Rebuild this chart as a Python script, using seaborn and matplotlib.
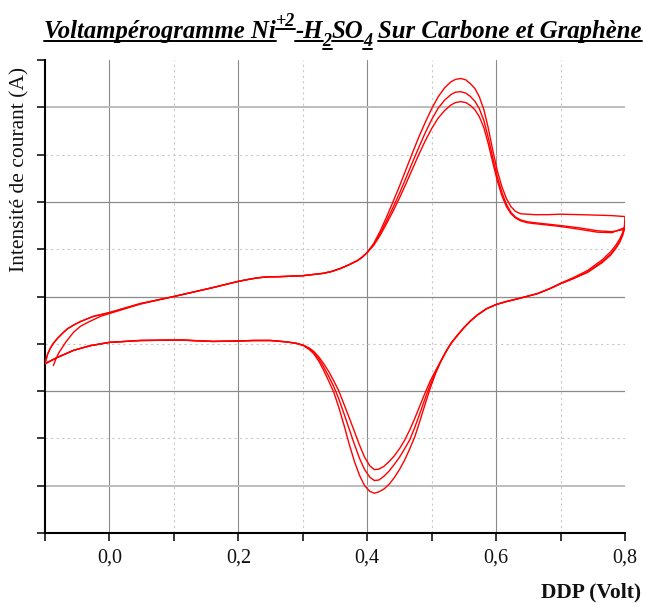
import matplotlib
matplotlib.use("Agg")
import matplotlib.pyplot as plt
from matplotlib.lines import Line2D
import pandas as pd
import seaborn as sns

# ---------------------------------------------------------------------------
# Cyclic voltammogram, three successive scans (potential in V, current in a.u.)
# ---------------------------------------------------------------------------
cycle_names = ["Cycle 1", "Cycle 2", "Cycle 3"]

# beginning of the anodic scans (cycle 1 starts a little after -0.1 V)
v_fwd_start_1 = [-0.087, -0.083, -0.079, -0.068, -0.056, -0.045, -0.034, -0.014]
i_fwd_start_1 = [-1.46, -1.32, -1.20, -0.97, -0.76, -0.63, -0.55, -0.42]
v_fwd_start_23 = [-0.100, -0.096, -0.092, -0.087, -0.081, -0.073, -0.065, -0.055,
                  -0.045, -0.025]
i_fwd_start_23 = [-1.42, -1.22, -1.10, -0.99, -0.89, -0.78, -0.68, -0.60,
                  -0.53, -0.42]

# rest of the anodic scans
v_fwd = [0.000, 0.048, 0.100, 0.161, 0.200, 0.215, 0.230, 0.245, 0.265, 0.300,
         0.332, 0.345, 0.358, 0.370, 0.385, 0.392,
         0.400, 0.410, 0.420, 0.430, 0.440, 0.450, 0.460, 0.470, 0.480, 0.490,
         0.500, 0.510, 0.520, 0.530, 0.537, 0.545, 0.553, 0.560, 0.567, 0.574,
         0.581, 0.588, 0.595, 0.602, 0.609, 0.616, 0.623, 0.630, 0.638, 0.648,
         0.660, 0.680, 0.700, 0.730, 0.757, 0.780, 0.800]
i_fwd_1 = [-0.36, -0.16, 0.00, 0.19, 0.32, 0.36, 0.395, 0.415, 0.42, 0.44,
           0.49, 0.53, 0.59, 0.66, 0.76, 0.83,
           0.93, 1.12, 1.38, 1.68, 2.00, 2.33, 2.68, 3.03, 3.37, 3.68,
           3.97, 4.22, 4.41, 4.54, 4.59, 4.61, 4.58, 4.50, 4.40, 4.22,
           3.95, 3.55, 3.08, 2.65, 2.32, 2.07, 1.90, 1.80, 1.75, 1.74,
           1.73, 1.73, 1.74, 1.73, 1.72, 1.71, 1.69]
i_fwd_2 = [-0.34, -0.15, 0.00, 0.19, 0.32, 0.36, 0.395, 0.415, 0.42, 0.44,
           0.49, 0.53, 0.59, 0.66, 0.76, 0.83,
           0.93, 1.10, 1.33, 1.60, 1.88, 2.18, 2.50, 2.83, 3.15, 3.46,
           3.74, 3.98, 4.15, 4.27, 4.32, 4.33, 4.30, 4.23, 4.13, 3.97,
           3.72, 3.35, 2.92, 2.52, 2.20, 1.95, 1.78, 1.68, 1.62, 1.58,
           1.56, 1.53, 1.50, 1.45, 1.39, 1.37, 1.42]
i_fwd_3 = [-0.34, -0.15, 0.00, 0.19, 0.32, 0.36, 0.395, 0.415, 0.42, 0.44,
           0.49, 0.53, 0.59, 0.66, 0.76, 0.83,
           0.93, 1.08, 1.29, 1.54, 1.80, 2.08, 2.38, 2.69, 3.00, 3.29,
           3.55, 3.77, 3.93, 4.05, 4.10, 4.12, 4.10, 4.04, 3.95, 3.80,
           3.57, 3.22, 2.82, 2.44, 2.13, 1.90, 1.75, 1.66, 1.60, 1.56,
           1.54, 1.51, 1.48, 1.42, 1.36, 1.35, 1.46]

# cathodic (reverse) scans
v_rev = [0.799, 0.796, 0.792, 0.786, 0.778, 0.765, 0.742, 0.720, 0.700, 0.684,
         0.664, 0.650, 0.633, 0.615, 0.600, 0.585, 0.571, 0.560, 0.550, 0.540,
         0.530, 0.522, 0.514, 0.506, 0.498, 0.490, 0.482, 0.474, 0.466, 0.458,
         0.450, 0.442, 0.434, 0.426, 0.418, 0.411, 0.404, 0.396, 0.388, 0.380,
         0.372, 0.364, 0.356, 0.348, 0.340, 0.332, 0.325, 0.317, 0.310, 0.301,
         0.290, 0.275, 0.250, 0.225, 0.200, 0.161, 0.110, 0.048, 0.000, -0.030,
         -0.056, -0.081, -0.100]
i_rev_1 = [1.47, 1.34, 1.22, 1.09, 0.95, 0.78, 0.55, 0.40, 0.28, 0.17,
           0.06, 0.01, -0.05, -0.11, -0.17, -0.26, -0.39, -0.52, -0.66, -0.82,
           -0.99, -1.17, -1.38, -1.63, -1.93, -2.27, -2.62, -2.96, -3.22, -3.46,
           -3.66, -3.83, -3.97, -4.07, -4.13, -4.16, -4.12, -4.00, -3.78, -3.48,
           -3.12, -2.72, -2.35, -2.02, -1.78, -1.55, -1.37, -1.21, -1.12, -1.04,
           -0.99, -0.96, -0.93, -0.93, -0.94, -0.95, -0.92, -0.93, -0.97, -1.04,
           -1.14, -1.29, -1.42]
i_rev_2 = [1.42, 1.28, 1.15, 1.02, 0.88, 0.72, 0.51, 0.38, 0.27, 0.17,
           0.06, 0.01, -0.05, -0.11, -0.17, -0.26, -0.39, -0.52, -0.66, -0.82,
           -0.99, -1.17, -1.37, -1.60, -1.86, -2.15, -2.46, -2.76, -3.03, -3.22,
           -3.40, -3.55, -3.69, -3.80, -3.88, -3.89, -3.82, -3.66, -3.42, -3.12,
           -2.80, -2.48, -2.17, -1.90, -1.68, -1.48, -1.32, -1.18, -1.10, -1.03,
           -0.99, -0.96, -0.93, -0.93, -0.94, -0.95, -0.92, -0.93, -0.97, -1.04,
           -1.14, -1.29, -1.42]
i_rev_3 = [1.44, 1.30, 1.17, 1.04, 0.90, 0.74, 0.52, 0.38, 0.27, 0.17,
           0.06, 0.01, -0.05, -0.11, -0.17, -0.26, -0.39, -0.52, -0.66, -0.82,
           -0.99, -1.17, -1.37, -1.57, -1.78, -2.03, -2.30, -2.57, -2.82, -3.04,
           -3.22, -3.37, -3.49, -3.59, -3.65, -3.66, -3.58, -3.40, -3.14, -2.85,
           -2.56, -2.28, -2.00, -1.78, -1.58, -1.41, -1.28, -1.16, -1.09, -1.03,
           -0.99, -0.96, -0.93, -0.93, -0.94, -0.95, -0.92, -0.93, -0.97, -1.04,
           -1.14, -1.29, -1.42]

x_ticks = [0.0, 0.2, 0.4, 0.6, 0.8]
x_tick_labels = ["0,0", "0,2", "0,4", "0,6", "0,8"]

title_parts = [("Voltampérogramme Ni", "base"), ("+2", "sup"), ("-H", "base"),
               ("2", "sub"), ("SO", "base"), ("4", "sub"),
               ("Sur Carbone et Graphène", "base")]
y_label = "Intensité de courant (A)"
x_label = "DDP (Volt)"

# ---------------------------------------------------------------------------
frames = []
scans = [(v_fwd_start_1, i_fwd_start_1, i_fwd_1, i_rev_1),
         (v_fwd_start_23, i_fwd_start_23, i_fwd_2, i_rev_2),
         (v_fwd_start_23, i_fwd_start_23, i_fwd_3, i_rev_3)]
for name, (vs, cs, cf, cr) in zip(cycle_names, scans):
    v = list(vs) + list(v_fwd) + list(v_rev)
    c = list(cs) + list(cf) + list(cr)
    frames.append(pd.DataFrame({"E": v, "I": c, "cycle": name}))
df = pd.concat(frames, ignore_index=True)

sns.set_style("ticks")
plt.rcParams["font.family"] = ["Liberation Serif", "DejaVu Serif"]

W, H = 647, 603
fig = plt.figure(figsize=(W / 100, H / 100), dpi=100)
ax = fig.add_axes([45 / W, (H - 533) / H, 580 / W, 473 / H])

sns.lineplot(data=df, x="E", y="I", hue="cycle", units="cycle",
             palette=["#ff0000"] * 3, sort=False, estimator=None,
             linewidth=1.0, legend=False, ax=ax, zorder=3)

ax.set_xlim(-0.1, 0.8)
ax.set_ylim(-5, 5)
ax.set_xticks(x_ticks)
ax.set_xticklabels(x_tick_labels)
ax.set_xticks([-0.1, 0.1, 0.3, 0.5, 0.7], minor=True)
ax.set_yticks([-4, -2, 0, 2, 4])
ax.set_yticks([-5, -3, -1, 1, 3, 5], minor=True)
ax.set_yticklabels([])
ax.set_xlabel("")
ax.set_ylabel("")

for side in ("top", "right"):
    ax.spines[side].set_visible(False)
for side in ("left", "bottom"):
    ax.spines[side].set_linewidth(1.5)
    ax.spines[side].set_color("black")

ax.tick_params(which="both", direction="out", length=6, width=1.1, color="black")
ax.tick_params(axis="x", which="major", labelsize=14.5, pad=5, labelcolor="#111111")

# grid
ax.grid(False)
for xv in [0.0, 0.2, 0.4, 0.6]:
    ax.axvline(xv, color="#8a8a8a", lw=0.8, zorder=1)
for xv in [0.1, 0.3, 0.5, 0.7]:
    ax.axvline(xv, color="#c8c8c8", lw=0.8, ls=(0, (2, 3)), zorder=1)
for yv in [-4, 4]:
    ax.axhline(yv, color="#bdbdbd", lw=1.4, zorder=1)
for yv in [-2, 0, 2]:
    ax.axhline(yv, color="#8a8a8a", lw=0.9, zorder=1)
for yv in [-3, -1, 1, 3]:
    ax.axhline(yv, color="#c8c8c8", lw=0.8, ls=(0, (2, 3)), zorder=1)

# axis titles
fig.text(20 / W, 1 - 169 / H, y_label, rotation=90, ha="center", va="center",
         fontsize=15.5, color="#111111")
fig.text(641 / W, 1 - 592 / H, x_label, ha="right", va="center",
         fontsize=15.5, fontweight="bold", color="#111111")

# underlined title built from pieces (superscript / subscripts)
renderer = fig.canvas.get_renderer()
sizes = {"base": 17.8, "sup": 13, "sub": 13}
shift = {"base": 0, "sup": 12, "sub": -8}
pieces = []
for s, kind in title_parts:
    t = fig.text(0, 0, s, fontsize=sizes[kind], fontweight="bold", fontstyle="italic",
                 ha="left", va="baseline", color="black")
    pieces.append((t, kind, t.get_window_extent(renderer).width))
gap = 6
total = sum(w for _, _, w in pieces) + gap
x = 343 - total / 2
base = H - 38
for t, kind, w in pieces:
    if t.get_text().startswith("Sur"):
        x += gap
    y0 = base + shift[kind]
    t.set_position((x / W, y0 / H))
    fig.add_artist(Line2D([x / W, (x + w) / W], [(y0 - 3) / H] * 2,
                          transform=fig.transFigure, color="black", lw=1.4))
    x += w

fig.savefig("out.png", dpi=100)
